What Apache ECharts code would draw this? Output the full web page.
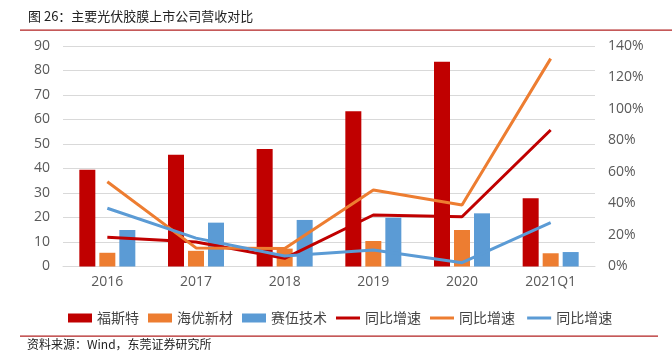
<!DOCTYPE html>
<html><head><meta charset="utf-8">
<script src="https://cdn.jsdelivr.net/npm/echarts@6/dist/echarts.min.js"></script>
<style>html,body{margin:0;padding:0;background:#fff}#c{width:672px;height:355px}</style>
</head><body><div id="c"></div>
<script>
const categories = ['2016','2017','2018','2019','2020','2021Q1'];
const fosterRevenue = [39.5, 45.6, 48.0, 63.4, 83.6, 27.9];
const hiuvRevenue = [5.6, 6.4, 7.3, 10.4, 14.9, 5.4];
const cybridRevenue = [14.9, 17.9, 19.0, 19.9, 21.7, 5.9];
const fosterGrowth = [18.5, 15.5, 5.2, 32.7, 31.6, 86.7];
const hiuvGrowth = [53.8, 11.8, 11.5, 48.6, 39.0, 132.0];
const cybridGrowth = [37.0, 18.0, 6.7, 10.5, 2.4, 27.8];
const leftTicks = [0, 90, 10];
const rightTicks = [0, 140, 20];
const titleText = '图 26：主要光伏胶膜上市公司营收对比';
const sourceText = '资料来源：Wind，东莞证券研究所';

const RED = '#C00000', ORANGE = '#ED7D31', BLUE = '#5B9BD5';
const cjk = '"Noto Sans CJK SC", sans-serif';
const chart = echarts.init(document.getElementById('c'));
const barS = (name, data, color) => ({
  name, type: 'bar', data, yAxisIndex: 0, barWidth: 16, barGap: '25%',
  itemStyle: { color }
});
const lineS = (name, data, color) => ({
  name, type: 'line', data, yAxisIndex: 1, symbol: 'none',
  lineStyle: { color, width: 3 }, itemStyle: { color }
});
const lineIcon = 'path://M0,0 L24,0 L24,3 L0,3 Z';
chart.setOption({
  animation: false,
  grid: { left: 63, right: 77, top: 46, bottom: 88.5 },
  graphic: [
    { type: 'text', left: 28, top: 10, style: { text: titleText, font: '13px ' + cjk, fill: '#222' } },
    { type: 'rect', shape: { x: 20, y: 29.5, width: 652, height: 1.2 }, style: { fill: '#B22222' } },
    { type: 'rect', shape: { x: 20, y: 335.5, width: 638, height: 1.2 }, style: { fill: '#B22222' } },
    { type: 'text', left: 27, top: 338, style: { text: sourceText, font: '12px ' + cjk, fill: '#222' } }
  ],
  legend: {
    left: 63, top: 306, itemGap: 9, itemWidth: 24, itemHeight: 9,
    textStyle: { fontFamily: cjk, fontSize: 14, color: '#444' },
    data: [
      { name: '福斯特', icon: 'rect' },
      { name: '海优新材', icon: 'rect' },
      { name: '赛伍技术', icon: 'rect' },
      { name: '同比增速', icon: lineIcon },
      { name: '同比增速 ', icon: lineIcon },
      { name: '同比增速  ', icon: lineIcon }
    ]
  },
  xAxis: {
    type: 'category', data: categories,
    axisLine: { lineStyle: { color: '#d9d9d9' } }, axisTick: { show: false },
    axisLabel: { color: '#595959', fontSize: 14, fontFamily: '"Open Sans", sans-serif', margin: 9 }
  },
  yAxis: [
    { type: 'value', min: leftTicks[0], max: leftTicks[1], interval: leftTicks[2],
      axisLabel: { color: '#595959', fontSize: 14, fontFamily: '"Open Sans", sans-serif', margin: 13 },
      splitLine: { lineStyle: { color: '#d9d9d9', width: 1 } }, axisLine: { show: false }, axisTick: { show: false } },
    { type: 'value', min: rightTicks[0], max: rightTicks[1], interval: rightTicks[2],
      axisLabel: { color: '#595959', fontSize: 14, fontFamily: '"Open Sans", sans-serif', margin: 13, formatter: '{value}%' },
      splitLine: { show: false }, axisLine: { show: false }, axisTick: { show: false } }
  ],
  series: [
    barS('福斯特', fosterRevenue, RED),
    barS('海优新材', hiuvRevenue, ORANGE),
    barS('赛伍技术', cybridRevenue, BLUE),
    lineS('同比增速', fosterGrowth, RED),
    lineS('同比增速 ', hiuvGrowth, ORANGE),
    lineS('同比增速  ', cybridGrowth, BLUE)
  ]
});
</script></body></html>
